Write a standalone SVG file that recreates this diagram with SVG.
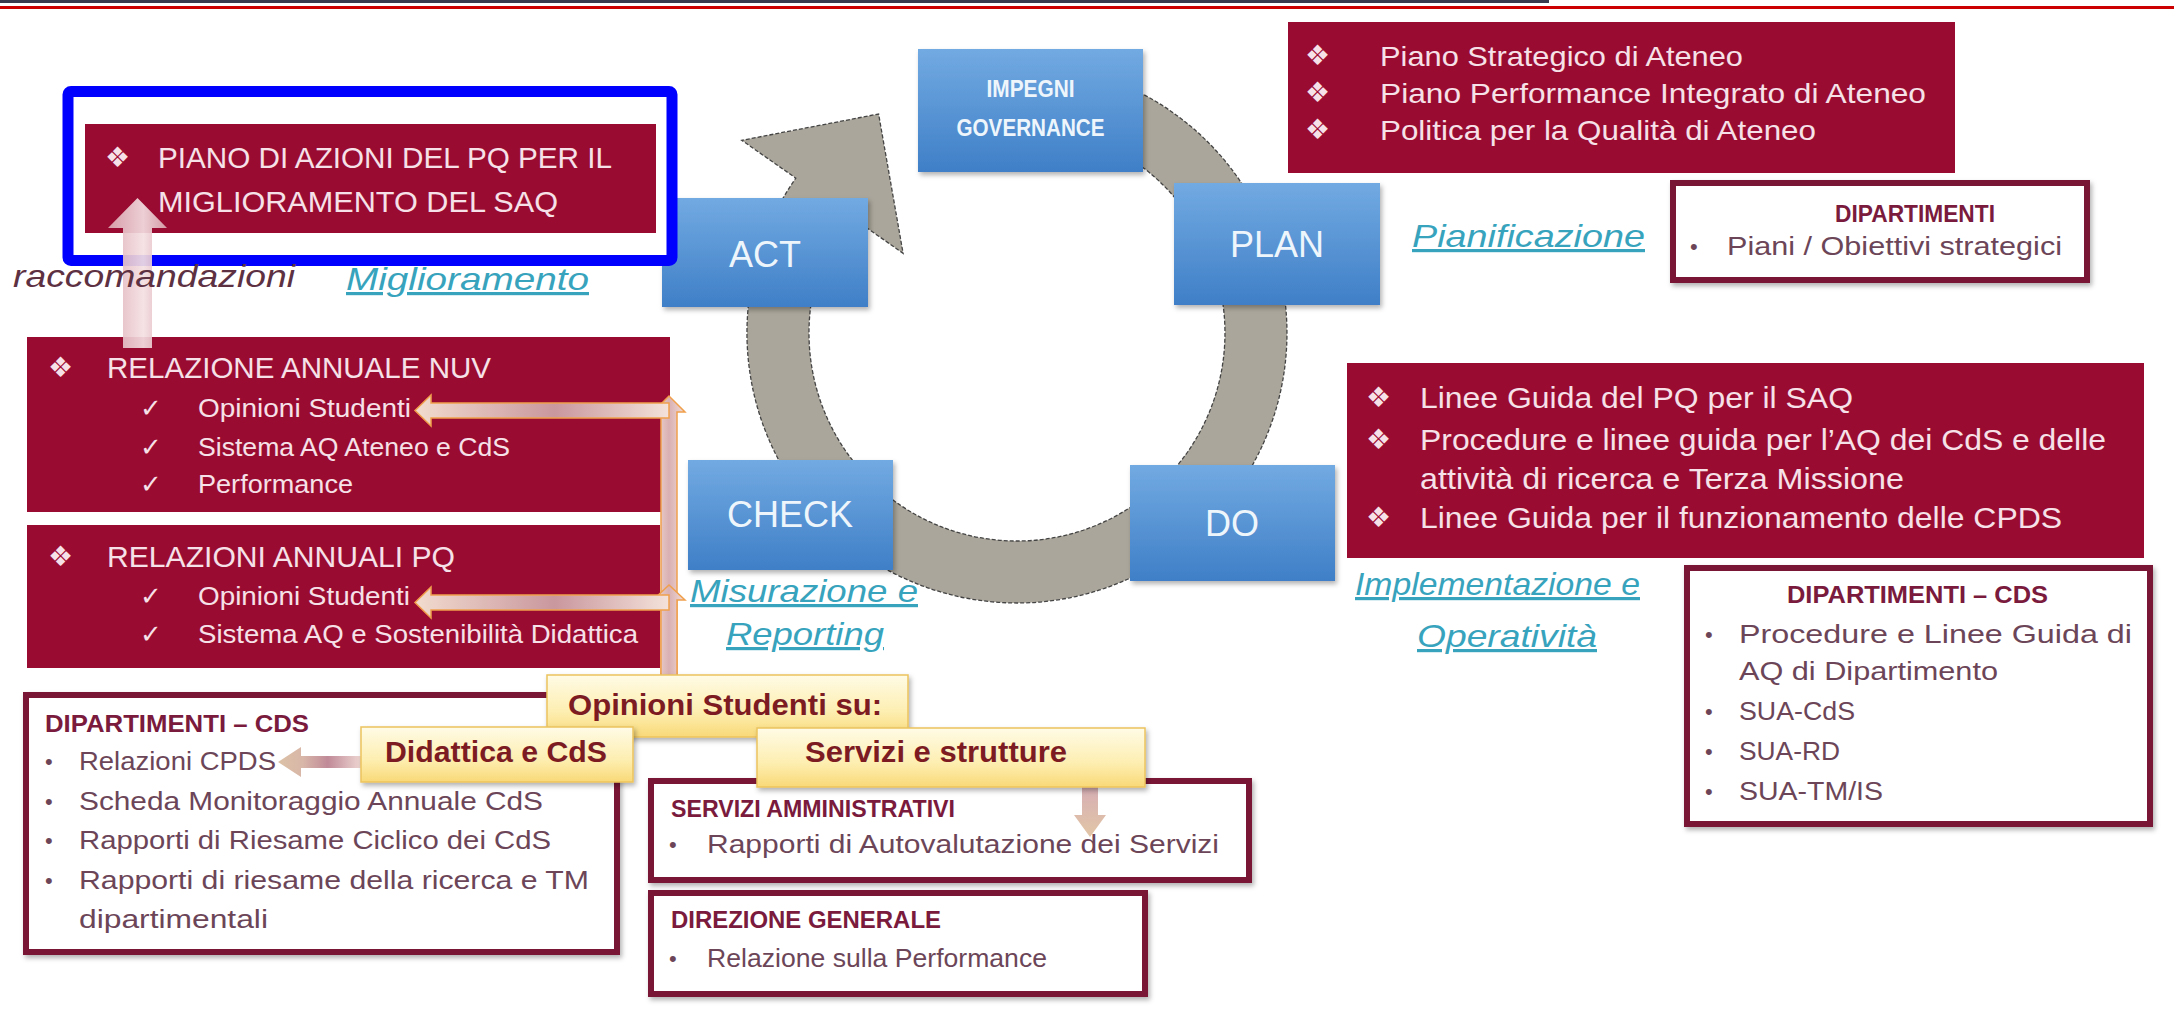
<svg xmlns="http://www.w3.org/2000/svg" width="2174" height="1009" viewBox="0 0 2174 1009">
<defs>
 <linearGradient id="gBlue" x1="0" y1="0" x2="0" y2="1">
  <stop offset="0" stop-color="#72aae2"/>
  <stop offset="1" stop-color="#3f7fc7"/>
 </linearGradient>
 <linearGradient id="gYel" x1="0" y1="0" x2="0" y2="1">
  <stop offset="0" stop-color="#fffbe6"/>
  <stop offset="0.6" stop-color="#fdeeb0"/>
  <stop offset="1" stop-color="#f9d978"/>
 </linearGradient>
 <linearGradient id="gH" x1="0" y1="0" x2="1" y2="0">
  <stop offset="0" stop-color="#f2dccf"/>
  <stop offset="0.55" stop-color="#c9979e"/>
  <stop offset="1" stop-color="#f4e2da"/>
 </linearGradient>
 <linearGradient id="gV" x1="0" y1="0" x2="1" y2="0">
  <stop offset="0" stop-color="#f3ddd6"/>
  <stop offset="0.5" stop-color="#d9b0b3"/>
  <stop offset="1" stop-color="#f3ddd6"/>
 </linearGradient>
 <linearGradient id="gUp" x1="0" y1="0" x2="1" y2="0">
  <stop offset="0" stop-color="#dcaab3"/>
  <stop offset="0.6" stop-color="#f4e0e3"/>
  <stop offset="1" stop-color="#d9a6af"/>
 </linearGradient>
 <linearGradient id="gDidA" x1="0" y1="0" x2="1" y2="0">
  <stop offset="0" stop-color="#dcc2a6"/>
  <stop offset="0.3" stop-color="#d8b6a8"/>
  <stop offset="0.6" stop-color="#c08a98"/>
  <stop offset="1" stop-color="#eed6d2"/>
 </linearGradient>
 <linearGradient id="gDown" x1="0" y1="0" x2="0" y2="1">
  <stop offset="0" stop-color="#d6aeb4"/>
  <stop offset="1" stop-color="#e2c6a6"/>
 </linearGradient>
 <filter id="fs" x="-10%" y="-10%" width="130%" height="140%">
  <feDropShadow dx="2" dy="3" stdDeviation="2.5" flood-color="#000" flood-opacity="0.3"/>
 </filter>
</defs>
<style>
 text{font-family:"Liberation Sans",Arial,sans-serif}
 .crim{fill:#9a0b31}
 .ct{fill:#f6e1e8}
 .sym{font-family:"DejaVu Sans",sans-serif;fill:#f6e1e8}
 .blue{fill:url(#gBlue);filter:url(#fs)}
 .bt{fill:#eef6fc;text-anchor:middle;font-size:36px}
 .bth{fill:#eef6fc;font-weight:bold;font-size:23px}
 .lbl{font-style:italic;fill:#37a3bd;text-decoration:underline;font-size:32px}
 .wbox{fill:#fff;stroke:#7a1236;stroke-width:6;filter:url(#fs)}
 .hd{font-weight:bold;fill:#7a1a3c;font-size:23px}
 .bd{fill:#6c4658;font-size:25px}
 .dot{fill:#6c4658;font-size:22px}
 .yb{fill:url(#gYel);stroke:#ecc35e;stroke-width:1.5;filter:url(#fs)}
 .yt{font-weight:bold;fill:#7c1c22;font-size:29px}
 .conn{stroke:#f0a04c;stroke-width:1.5}
</style>

<!-- header lines -->
<rect x="0" y="0" width="1549" height="3" fill="#3b3b4f"/>
<rect x="0" y="6" width="2174" height="3" fill="#cc0000"/>

<!-- cycle ring -->
<g id="cycle-ring">
 <path d="M993.5,64 A270,270 0 1,1 795.8,178.1 L741.8,140.3 L878.6,114 L903.1,253.3 L846.6,213.7 A208,208 0 1,0 998.9,125.8 Z" fill="#aaa69b" stroke="#444" stroke-width="1.3" stroke-dasharray="4 2"/>
</g>

<!-- cycle boxes -->
<g id="node-impegni">
 <rect class="blue" x="918" y="49" width="225" height="123"/>
 <text class="bth" x="986.5" y="97" textLength="88" lengthAdjust="spacingAndGlyphs">IMPEGNI</text>
 <text class="bth" x="956.5" y="136" textLength="148" lengthAdjust="spacingAndGlyphs">GOVERNANCE</text>
</g>
<g id="node-act">
 <rect class="blue" x="662" y="198" width="206" height="109"/>
 <text class="bt" x="765" y="267">ACT</text>
</g>
<g id="node-plan">
 <rect class="blue" x="1174" y="183" width="206" height="122"/>
 <text class="bt" x="1277" y="257">PLAN</text>
</g>
<g id="node-do">
 <rect class="blue" x="1130" y="465" width="205" height="116"/>
 <text class="bt" x="1232" y="536">DO</text>
</g>
<g id="node-check">
 <rect class="blue" x="688" y="460" width="205" height="110"/>
 <text class="bt" x="790" y="527">CHECK</text>
</g>

<!-- left crimson boxes -->
<g id="node-piano">
 <rect x="68" y="91.5" width="604" height="169" rx="3" fill="#fff" stroke="#0000ff" stroke-width="11"/>
 <rect class="crim" x="85" y="124" width="571" height="109"/>
 <text class="sym" x="105" y="167" font-size="28">❖</text>
 <text class="ct" x="158" y="168" font-size="29" textLength="454" lengthAdjust="spacingAndGlyphs">PIANO DI AZIONI DEL PQ PER IL</text>
 <text class="ct" x="158" y="212" font-size="29" textLength="400" lengthAdjust="spacingAndGlyphs">MIGLIORAMENTO DEL SAQ</text>
</g>
<g id="node-nuv">
 <rect class="crim" x="27" y="337" width="643" height="175"/>
 <text class="sym" x="48" y="377" font-size="28">❖</text>
 <text class="ct" x="107" y="378" font-size="29" textLength="384" lengthAdjust="spacingAndGlyphs">RELAZIONE ANNUALE NUV</text>
 <text class="sym" x="140" y="417" font-size="26">✓</text>
 <text class="ct" x="198" y="417" font-size="25" textLength="213" lengthAdjust="spacingAndGlyphs">Opinioni Studenti</text>
 <text class="sym" x="140" y="456" font-size="26">✓</text>
 <text class="ct" x="198" y="456" font-size="25" textLength="312" lengthAdjust="spacingAndGlyphs">Sistema AQ Ateneo e CdS</text>
 <text class="sym" x="140" y="493" font-size="26">✓</text>
 <text class="ct" x="198" y="493" font-size="25" textLength="155" lengthAdjust="spacingAndGlyphs">Performance</text>
</g>
<g id="node-pq">
 <rect class="crim" x="27" y="525" width="633" height="143"/>
 <text class="sym" x="48" y="566" font-size="28">❖</text>
 <text class="ct" x="107" y="567" font-size="29" textLength="348" lengthAdjust="spacingAndGlyphs">RELAZIONI ANNUALI PQ</text>
 <text class="sym" x="140" y="605" font-size="26">✓</text>
 <text class="ct" x="198" y="605" font-size="25" textLength="212" lengthAdjust="spacingAndGlyphs">Opinioni Studenti</text>
 <text class="sym" x="140" y="643" font-size="26">✓</text>
 <text class="ct" x="198" y="643" font-size="25" textLength="440" lengthAdjust="spacingAndGlyphs">Sistema AQ e Sostenibilità Didattica</text>
</g>

<!-- right crimson boxes -->
<g id="node-piano-strategico">
 <rect class="crim" x="1288" y="22" width="667" height="151"/>
 <text class="sym" x="1305" y="65" font-size="28">❖</text>
 <text class="ct" x="1380" y="66" font-size="28" textLength="363" lengthAdjust="spacingAndGlyphs">Piano Strategico di Ateneo</text>
 <text class="sym" x="1305" y="102" font-size="28">❖</text>
 <text class="ct" x="1380" y="103" font-size="28" textLength="546" lengthAdjust="spacingAndGlyphs">Piano Performance Integrato di Ateneo</text>
 <text class="sym" x="1305" y="139" font-size="28">❖</text>
 <text class="ct" x="1380" y="140" font-size="28" textLength="436" lengthAdjust="spacingAndGlyphs">Politica per la Qualità di Ateneo</text>
</g>
<g id="node-linee-guida">
 <rect class="crim" x="1347" y="363" width="797" height="195"/>
 <text class="sym" x="1366" y="407" font-size="28">❖</text>
 <text class="ct" x="1420" y="408" font-size="29" textLength="433" lengthAdjust="spacingAndGlyphs">Linee Guida del PQ per il SAQ</text>
 <text class="sym" x="1366" y="449" font-size="28">❖</text>
 <text class="ct" x="1420" y="450" font-size="29" textLength="686" lengthAdjust="spacingAndGlyphs">Procedure e linee guida per l’AQ dei CdS e delle</text>
 <text class="ct" x="1420" y="489" font-size="29" textLength="484" lengthAdjust="spacingAndGlyphs">attività di ricerca e Terza Missione</text>
 <text class="sym" x="1366" y="527" font-size="28">❖</text>
 <text class="ct" x="1420" y="528" font-size="29" textLength="642" lengthAdjust="spacingAndGlyphs">Linee Guida per il funzionamento delle CPDS</text>
</g>

<!-- white boxes -->
<g id="node-dipartimenti-top">
 <rect class="wbox" x="1673" y="183" width="414" height="97"/>
 <text class="hd" x="1835" y="222" textLength="160" lengthAdjust="spacingAndGlyphs">DIPARTIMENTI</text>
 <text class="dot" x="1690" y="254">•</text>
 <text class="bd" x="1727" y="255" textLength="335" lengthAdjust="spacingAndGlyphs">Piani / Obiettivi strategici</text>
</g>
<g id="node-dipartimenti-cds-right">
 <rect class="wbox" x="1687" y="568" width="463" height="256"/>
 <text class="hd" x="1787" y="603" textLength="261" lengthAdjust="spacingAndGlyphs">DIPARTIMENTI – CDS</text>
 <text class="dot" x="1705" y="642">•</text>
 <text class="bd" x="1739" y="643" textLength="393" lengthAdjust="spacingAndGlyphs">Procedure e Linee Guida di</text>
 <text class="bd" x="1739" y="680" textLength="259" lengthAdjust="spacingAndGlyphs">AQ di Dipartimento</text>
 <text class="dot" x="1705" y="719">•</text>
 <text class="bd" x="1739" y="720" textLength="116" lengthAdjust="spacingAndGlyphs">SUA-CdS</text>
 <text class="dot" x="1705" y="759">•</text>
 <text class="bd" x="1739" y="760" textLength="101" lengthAdjust="spacingAndGlyphs">SUA-RD</text>
 <text class="dot" x="1705" y="799">•</text>
 <text class="bd" x="1739" y="800" textLength="144" lengthAdjust="spacingAndGlyphs">SUA-TM/IS</text>
</g>
<g id="node-dipartimenti-cds-left">
 <rect class="wbox" x="26" y="695" width="591" height="257"/>
 <text class="hd" x="45" y="732" textLength="264" lengthAdjust="spacingAndGlyphs">DIPARTIMENTI – CDS</text>
 <text class="dot" x="45" y="769">•</text>
 <text class="bd" x="79" y="770" textLength="197" lengthAdjust="spacingAndGlyphs">Relazioni CPDS</text>
 <text class="dot" x="45" y="809">•</text>
 <text class="bd" x="79" y="810" textLength="464" lengthAdjust="spacingAndGlyphs">Scheda Monitoraggio Annuale CdS</text>
 <text class="dot" x="45" y="848">•</text>
 <text class="bd" x="79" y="849" textLength="472" lengthAdjust="spacingAndGlyphs">Rapporti di Riesame Ciclico dei CdS</text>
 <text class="dot" x="45" y="888">•</text>
 <text class="bd" x="79" y="889" textLength="510" lengthAdjust="spacingAndGlyphs">Rapporti di riesame della ricerca e TM</text>
 <text class="bd" x="79" y="928" textLength="189" lengthAdjust="spacingAndGlyphs">dipartimentali</text>
</g>
<g id="node-servizi-amministrativi">
 <rect class="wbox" x="651" y="781" width="598" height="99"/>
 <text class="hd" x="671" y="817" textLength="284" lengthAdjust="spacingAndGlyphs">SERVIZI AMMINISTRATIVI</text>
 <text class="dot" x="669" y="852">•</text>
 <text class="bd" x="707" y="853" textLength="512" lengthAdjust="spacingAndGlyphs">Rapporti di Autovalutazione dei Servizi</text>
</g>
<g id="node-direzione-generale">
 <rect class="wbox" x="651" y="893" width="494" height="101"/>
 <text class="hd" x="671" y="928" textLength="270" lengthAdjust="spacingAndGlyphs">DIREZIONE GENERALE</text>
 <text class="dot" x="669" y="966">•</text>
 <text class="bd" x="707" y="967" textLength="340" lengthAdjust="spacingAndGlyphs">Relazione sulla Performance</text>
</g>

<!-- connectors -->
<g id="connectors">
 <path class="conn" d="M661,676 L661,412 L653,412 L669,396 L685,412 L677,412 L677,676 Z" fill="url(#gV)"/>
 <path class="conn" d="M661,676 L661,600 L653,600 L669,585 L685,600 L677,600 L677,676 Z" fill="url(#gV)"/>
 <path class="conn" d="M669,403 L431,403 L431,395 L415,410.5 L431,426 L431,418 L669,418 Z" fill="url(#gH)"/>
 <path class="conn" d="M669,595 L431,595 L431,587 L415,602.5 L431,618 L431,610 L669,610 Z" fill="url(#gH)"/>
 <path d="M123,348 L123,228 L108,228 L137.5,198 L167,228 L152,228 L152,348 Z" fill="url(#gUp)" opacity="0.92"/>
 <path d="M361,756 L301,756 L301,747 L278,762 L301,777 L301,768 L361,768 Z" fill="url(#gDidA)"/>
 <path d="M1082,787 L1098,787 L1098,815 L1106,815 L1090,837 L1074,815 L1082,815 Z" fill="url(#gDown)"/>
</g>

<!-- yellow label boxes -->
<g id="node-opinioni">
 <rect class="yb" x="547" y="675" width="361" height="62"/>
 <text class="yt" x="568" y="715" textLength="314" lengthAdjust="spacingAndGlyphs">Opinioni Studenti su:</text>
</g>
<g id="node-didattica">
 <rect class="yb" x="361" y="727" width="272" height="55"/>
 <text class="yt" x="385" y="762" textLength="222" lengthAdjust="spacingAndGlyphs">Didattica e CdS</text>
</g>
<g id="node-servizi-strutture">
 <rect class="yb" x="757" y="728" width="388" height="59"/>
 <text class="yt" x="805" y="762" textLength="262" lengthAdjust="spacingAndGlyphs">Servizi e strutture</text>
</g>

<!-- phase labels -->
<g id="labels">
 <text x="13" y="287" font-size="32" font-style="italic" fill="#5d3142" textLength="282" lengthAdjust="spacingAndGlyphs">raccomandazioni</text>
 <text class="lbl" x="346" y="290" textLength="243" lengthAdjust="spacingAndGlyphs">Miglioramento</text>
 <text class="lbl" x="1412" y="247" textLength="233" lengthAdjust="spacingAndGlyphs">Pianificazione</text>
 <text class="lbl" x="1355" y="595" textLength="285" lengthAdjust="spacingAndGlyphs">Implementazione e</text>
 <text class="lbl" x="1417" y="647" textLength="180" lengthAdjust="spacingAndGlyphs">Operatività</text>
 <text class="lbl" x="690" y="602" textLength="228" lengthAdjust="spacingAndGlyphs">Misurazione e</text>
 <text class="lbl" x="726" y="645" textLength="158" lengthAdjust="spacingAndGlyphs">Reporting</text>
</g>
</svg>
